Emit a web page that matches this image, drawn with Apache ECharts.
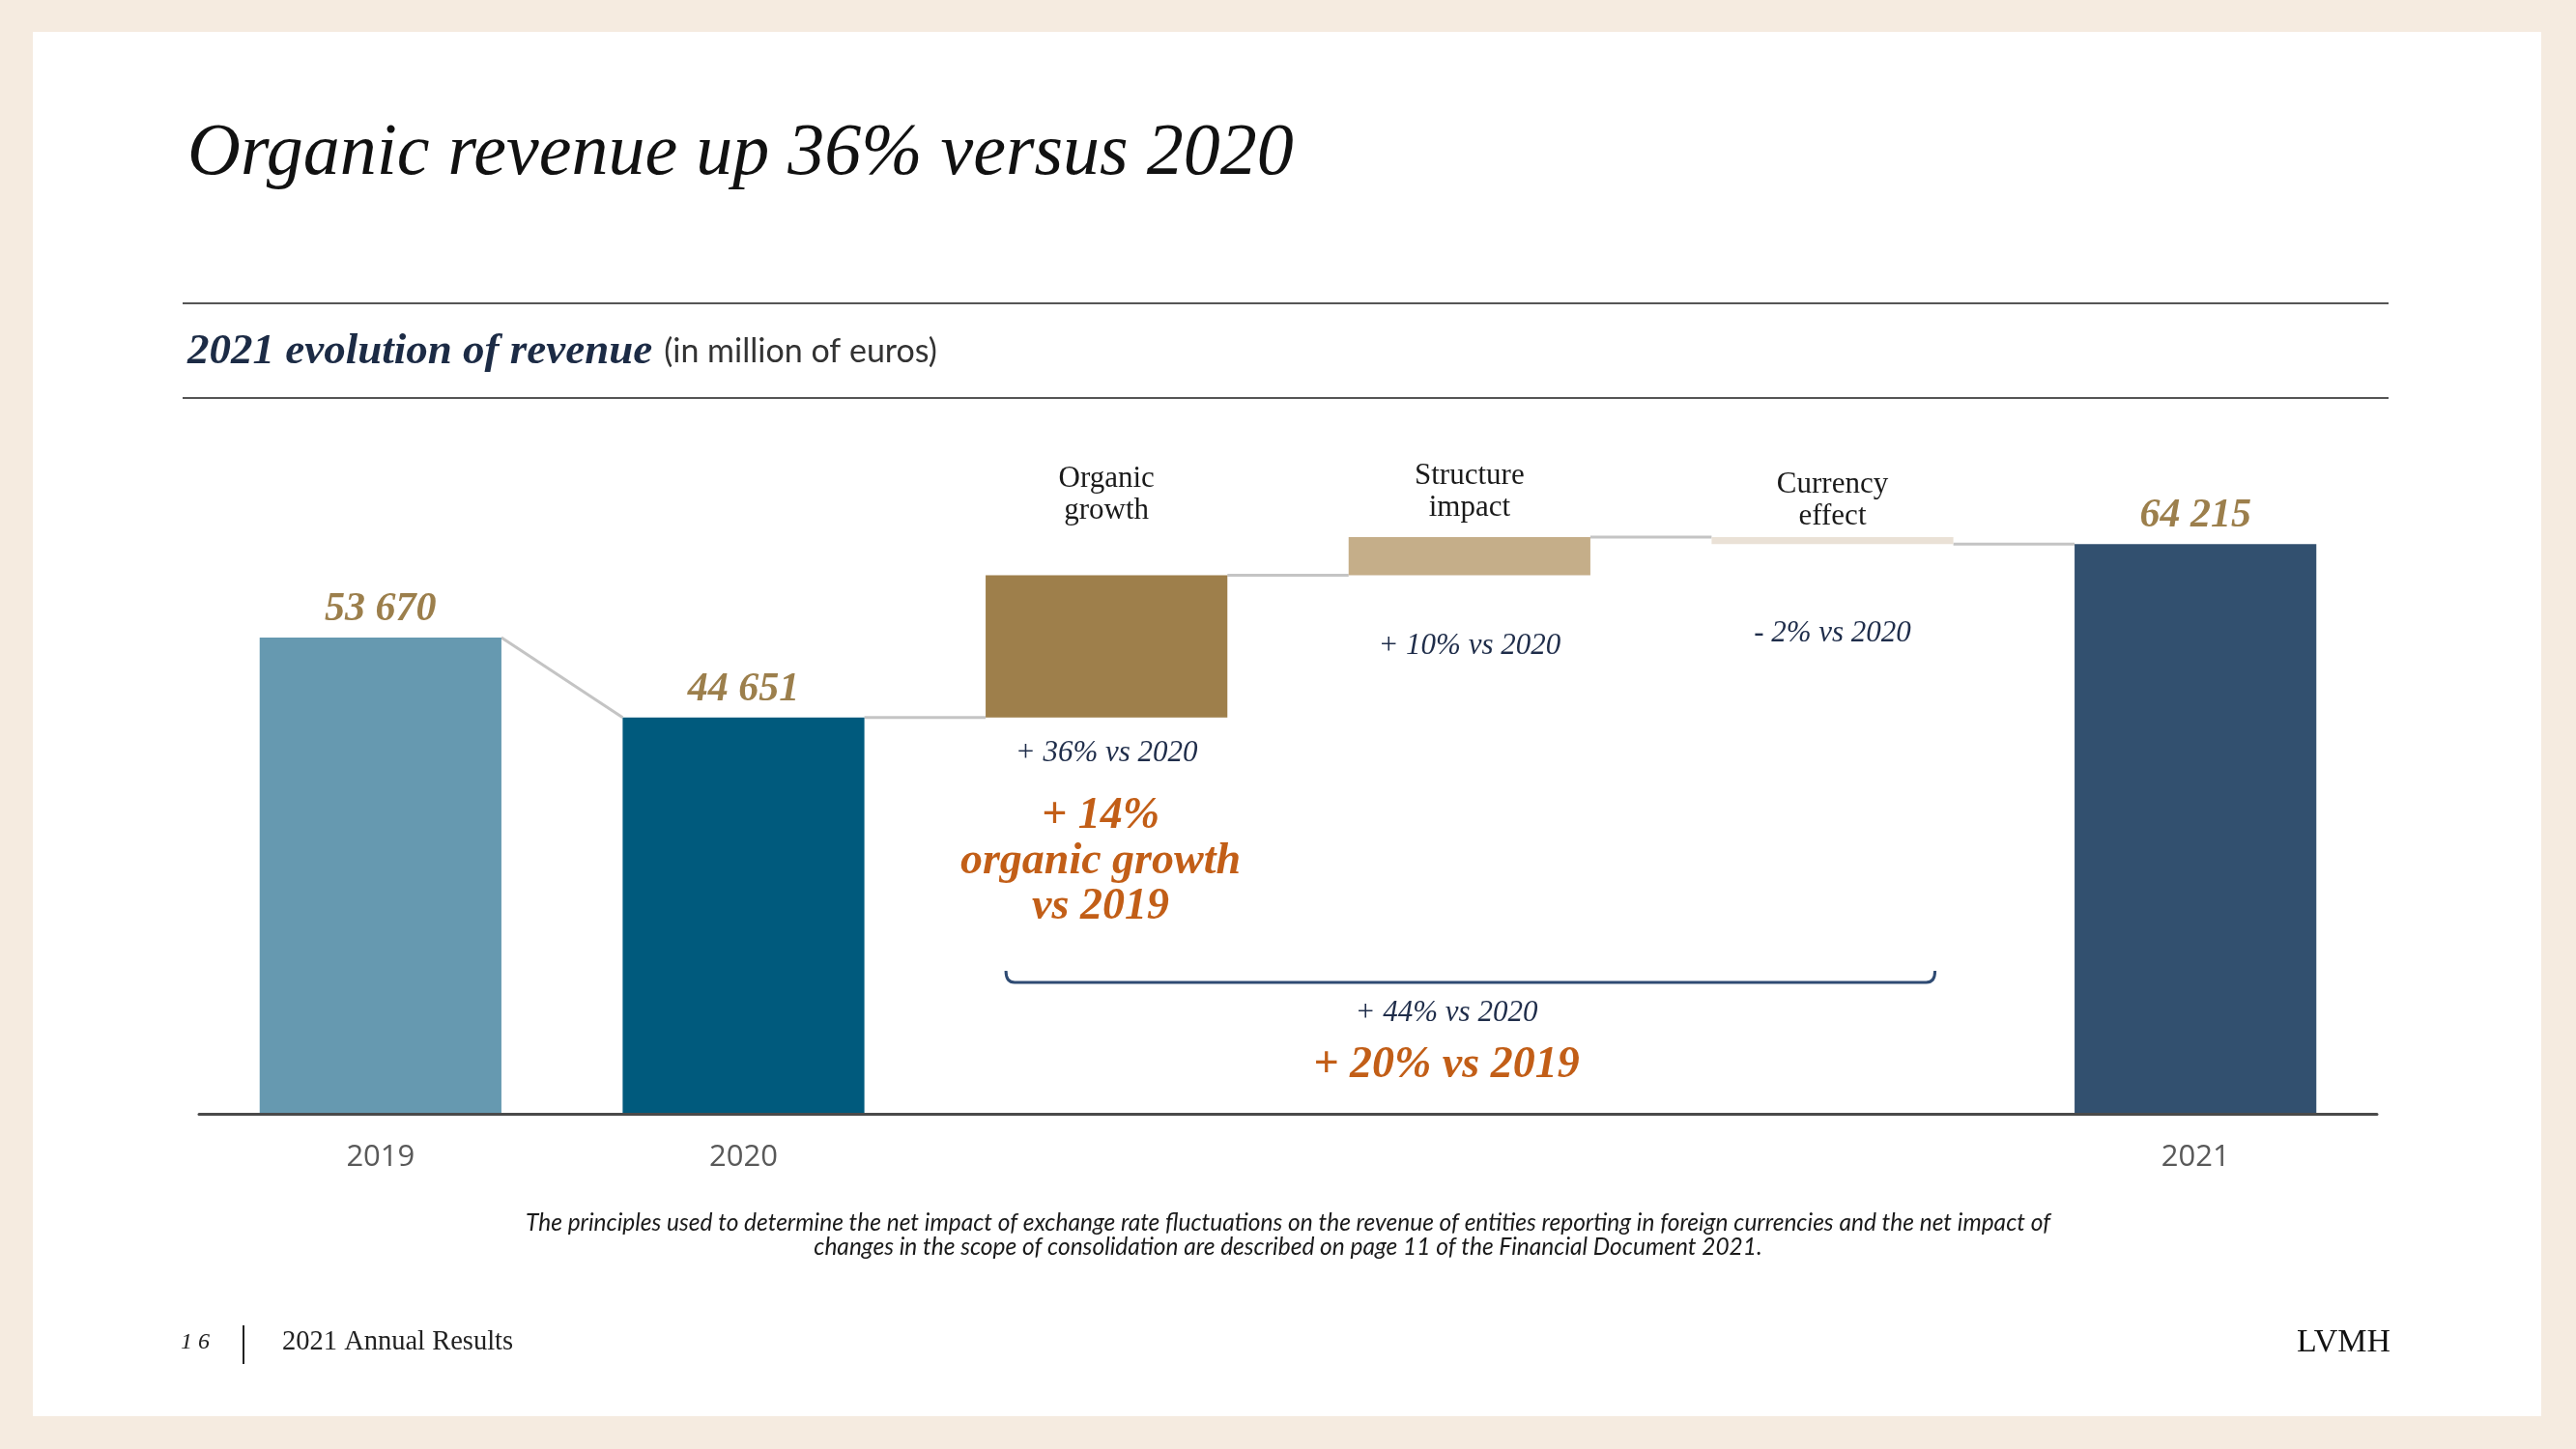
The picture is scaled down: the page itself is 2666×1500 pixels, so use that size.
<!DOCTYPE html>
<html><head><meta charset="utf-8">
<script src="https://cdn.jsdelivr.net/npm/echarts@6/dist/echarts.min.js"></script>
<style>html,body{margin:0;padding:0;background:#F5EBE0;}#c{width:2666px;height:1500px;}</style>
</head><body><div id="c"></div>
<script>
// ---- data ----
const categories = ['2019', '2020', 'Organic\ngrowth', 'Structure\nimpact', 'Currency\neffect', '2021'];
const axisLabels = ['2019', '2020', '', '', '', '2021'];
const totals = [53670, 44651, null, null, null, 64215];
const deltas = [null, null, 16049, 4300, -785, null];
const valueLabels = ['53 670', '44 651', '', '', '', '64 215'];
const changeLabels = ['', '', '+ 36% vs 2020', '+ 10% vs 2020', '- 2% vs 2020', ''];
const organicNote = ['+ 14%', 'organic growth', 'vs 2019'];
const bracketNotes = ['+ 44% vs 2020', '+ 20% vs 2019'];
const bracketRange = [2, 4];
const footnoteLines = [
  'The principles used to determine the net impact of exchange rate fluctuations on the revenue of entities reporting in foreign currencies and the net impact of',
  'changes in the scope of consolidation are described on page 11 of the Financial Document 2021.'
];

// ---- styles ----
const barColors = ['#6699B0', '#005A7D', '#9E7F4B', '#C5AE89', '#EAE1D6', '#32506F'];
const nameGap = [0, 0, 83, 47, 38, 0];
const changeGap = [0, 0, 37, 73, 93, 0];
const BAR_FRAC = 0.666;
const SERIF = '"Liberation Serif", "DejaVu Serif", serif';
const GOLD = '#9C7F4C';
const ORANGE = '#C25E17';
const NAVY = '#1F2D4A';

// ---- derived waterfall ----
const starts = [], ends = [], base = [], amount = [];
let level = 0;
for (let i = 0; i < categories.length; i++) {
  if (totals[i] != null) {
    starts.push(totals[i]); ends.push(totals[i]);
    base.push(0); amount.push(totals[i]);
    level = totals[i];
  } else {
    const s = level, e = level + deltas[i];
    starts.push(s); ends.push(e);
    base.push(Math.min(s, e)); amount.push(Math.abs(deltas[i]));
    level = e;
  }
}
const connectorData = [];
for (let i = 0; i < categories.length - 1; i++) connectorData.push([i, ends[i], starts[i + 1]]);
const noteData = [];
for (let i = 0; i < categories.length; i++) if (deltas[i] != null) noteData.push([i, Math.max(starts[i], ends[i]), Math.min(starts[i], ends[i])]);

const chart = echarts.init(document.getElementById('c'), null, {renderer: 'canvas'});
chart.setOption({
  animation: false,
  backgroundColor: 'transparent',
  grid: {left: 206, right: 206, top: 510, bottom: 347},
  xAxis: {
    type: 'category', data: categories,
    axisLine: {lineStyle: {color: '#4A4A4A', width: 3}},
    axisTick: {show: false},
    axisLabel: {formatter: (v, i) => axisLabels[i], margin: 30, fontSize: 31, color: '#595959', fontFamily: '"Open Sans", sans-serif'},
    z: 10
  },
  yAxis: {type: 'value', min: 0, max: 70000, show: false, splitLine: {show: false}},
  graphic: [
    {type: 'rect', z: -100, shape: {x: 34, y: 33, width: 2596, height: 1433}, style: {fill: '#FFFFFF'}},
    {type: 'text', x: 194, y: 160, style: {text: 'Organic revenue up 36% versus 2020', fontFamily: SERIF, fontStyle: 'italic', fontSize: 76, fill: '#111111', verticalAlign: 'middle'}},
    {type: 'line', shape: {x1: 189, y1: 314, x2: 2472, y2: 314}, style: {stroke: '#555555', lineWidth: 2}},
    {type: 'line', shape: {x1: 189, y1: 412, x2: 2472, y2: 412}, style: {stroke: '#555555', lineWidth: 2}},
    {type: 'text', x: 194, y: 364, style: {
      text: '{b|2021 evolution of revenue}{s|(in million of euros)}', verticalAlign: 'middle',
      rich: {
        b: {fontFamily: SERIF, fontStyle: 'italic', fontWeight: 'bold', fontSize: 45, fill: '#1C2B45', color: '#1C2B45'},
        s: {fontFamily: 'Lato, "Noto Sans", sans-serif', fontSize: 34, fill: '#333333', color: '#333333', padding: [0, 0, 0, 12]}
      }}},
    {type: 'text', x: 1139, y: 892, style: {text: organicNote.join('\n'), align: 'center', verticalAlign: 'middle', lineHeight: 47, fontFamily: SERIF, fontStyle: 'italic', fontWeight: 'bold', fontSize: 46, fill: ORANGE}},
    {type: 'text', x: 1497, y: 1049, style: {text: bracketNotes[0], align: 'center', verticalAlign: 'middle', fontFamily: SERIF, fontStyle: 'italic', fontSize: 31, fill: NAVY}},
    {type: 'text', x: 1497, y: 1103, style: {text: bracketNotes[1], align: 'center', verticalAlign: 'middle', fontFamily: SERIF, fontStyle: 'italic', fontWeight: 'bold', fontSize: 46, fill: ORANGE}},
    {type: 'text', x: 1333, y: 1279, style: {text: footnoteLines.join('\n'), align: 'center', verticalAlign: 'middle', lineHeight: 25, fontFamily: 'Lato, "Noto Sans", sans-serif', fontStyle: 'italic', fontSize: 24.5, fill: '#1A1A1A'}},
    {type: 'text', x: 187, y: 1390, style: {text: '1 6', verticalAlign: 'middle', fontFamily: SERIF, fontStyle: 'italic', fontSize: 24, fill: '#222222'}},
    {type: 'line', shape: {x1: 252, y1: 1372, x2: 252, y2: 1412}, style: {stroke: '#222222', lineWidth: 2}},
    {type: 'text', x: 292, y: 1390, style: {text: '2021 Annual Results', verticalAlign: 'middle', fontFamily: SERIF, fontSize: 28.5, fill: '#222222'}},
    {type: 'text', x: 2474, y: 1390, style: {text: 'LVMH', align: 'right', verticalAlign: 'middle', fontFamily: SERIF, fontSize: 34, fill: '#111111'}}
  ],
  series: [
    {
      type: 'custom', name: 'connectors', z: 1,
      data: connectorData, encode: {x: 0, y: [1, 2]},
      renderItem: (params, api) => {
        const i = api.value(0);
        const bw = api.size([1, 0])[0] * BAR_FRAC;
        const p1 = api.coord([i, api.value(1)]);
        const p2 = api.coord([i + 1, api.value(2)]);
        return {type: 'line', shape: {x1: p1[0] + bw / 2, y1: p1[1], x2: p2[0] - bw / 2, y2: p2[1]}, style: {stroke: '#C4C4C4', lineWidth: 3}};
      }
    },
    {
      type: 'bar', name: 'base', stack: 'w', barWidth: (BAR_FRAC * 100) + '%', silent: true,
      itemStyle: {color: 'rgba(0,0,0,0)'}, data: base
    },
    {
      type: 'bar', name: 'amount', stack: 'w', barWidth: (BAR_FRAC * 100) + '%', z: 3,
      data: amount.map((v, i) => ({value: v, itemStyle: {color: barColors[i]}})),
      label: {
        show: true, position: 'top', distance: 8,
        formatter: p => valueLabels[p.dataIndex],
        fontFamily: SERIF, fontStyle: 'italic', fontWeight: 'bold', fontSize: 42, color: GOLD
      }
    },
    {
      type: 'custom', name: 'notes', z: 5,
      data: noteData, encode: {x: 0, y: [1, 2]},
      renderItem: (params, api) => {
        const i = api.value(0);
        const top = api.coord([i, api.value(1)]);
        const bot = api.coord([i, api.value(2)]);
        return {type: 'group', children: [
          {type: 'text', x: top[0], y: top[1] - nameGap[i], style: {text: categories[i], align: 'center', verticalAlign: 'middle', lineHeight: 33, fontFamily: SERIF, fontSize: 31, fill: '#1A1A1A'}},
          {type: 'text', x: bot[0], y: bot[1] + changeGap[i], style: {text: changeLabels[i], align: 'center', verticalAlign: 'middle', fontFamily: SERIF, fontStyle: 'italic', fontSize: 31, fill: NAVY}}
        ]};
      }
    },
    {
      type: 'custom', name: 'bracket', z: 5,
      data: [[bracketRange[0], bracketRange[1], 0]], encode: {x: [0, 1], y: 2},
      renderItem: (params, api) => {
        const bw = api.size([1, 0])[0] * BAR_FRAC;
        const a = api.coord([api.value(0), 0]);
        const b = api.coord([api.value(1), 0]);
        const l = a[0] - bw / 2 + 21, r = b[0] + bw / 2 - 19, y = a[1] - 136;
        return {type: 'path', shape: {pathData: `M${l},${y - 12} Q${l},${y} ${l + 9},${y} L${r - 9},${y} Q${r},${y} ${r},${y - 12}`},
          style: {stroke: '#2F4B73', lineWidth: 3, fill: null}};
      }
    }
  ]
});
</script></body></html>
